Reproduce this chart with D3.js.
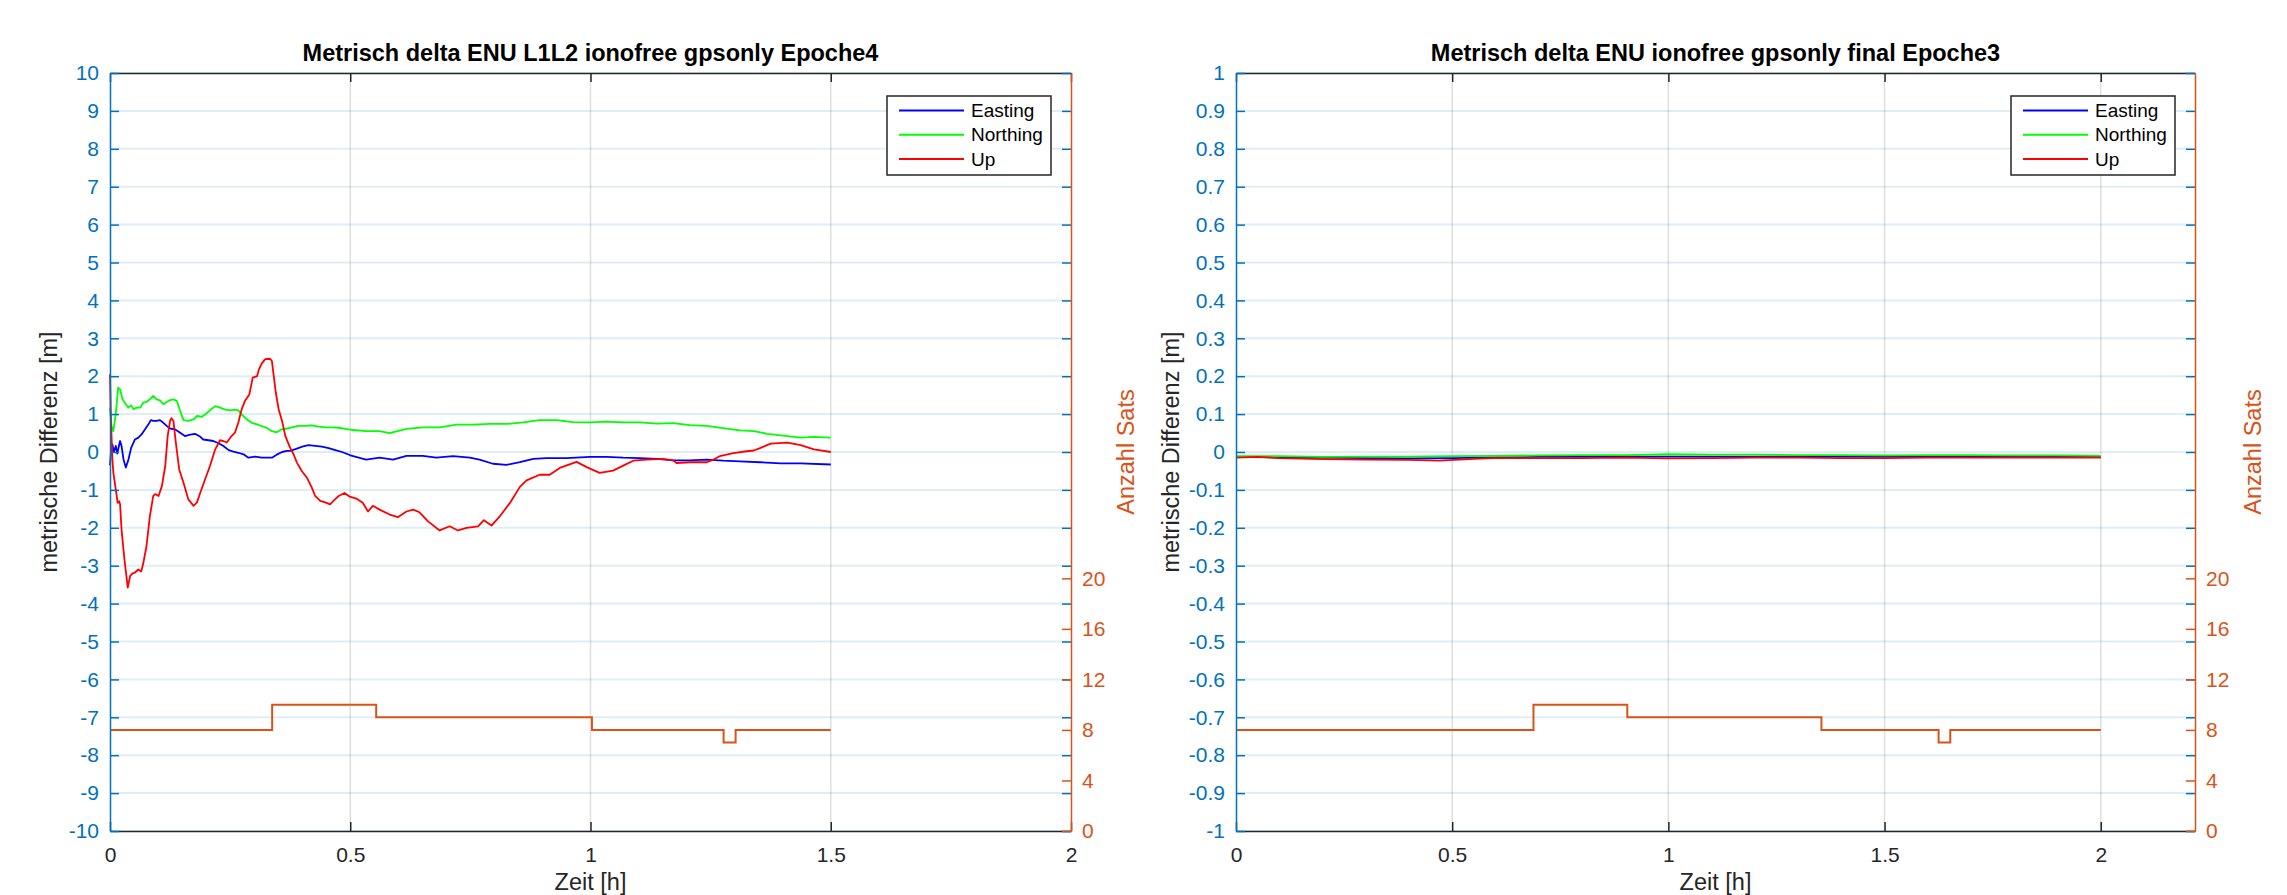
<!DOCTYPE html>
<html><head><meta charset="utf-8">
<script src="https://cdn.jsdelivr.net/npm/d3@7"></script>
<style>
body{margin:0;background:#fff}
svg{display:block}
text{font-family:"Liberation Sans",Arial,Helvetica,sans-serif}
</style>
</head><body>
<svg id="chart" width="2287" height="895"></svg>
<script>
// ---------- tick labels ----------
const xTicks = [0, 0.5, 1, 1.5, 2];
const xTickLabels = ["0", "0.5", "1", "1.5", "2"];
const satTicks = [0, 4, 8, 12, 16, 20];
const leftYTicks = [-10,-9,-8,-7,-6,-5,-4,-3,-2,-1,0,1,2,3,4,5,6,7,8,9,10];
const rightYTicks = [-1,-0.9,-0.8,-0.7,-0.6,-0.5,-0.4,-0.3,-0.2,-0.1,0,0.1,0.2,0.3,0.4,0.5,0.6,0.7,0.8,0.9,1];
const rightYTickLabels = ["-1","-0.9","-0.8","-0.7","-0.6","-0.5","-0.4","-0.3","-0.2","-0.1","0","0.1","0.2","0.3","0.4","0.5","0.6","0.7","0.8","0.9","1"];
const seriesNames = ["Easting", "Northing", "Up"];
const titles = ["Metrisch delta ENU L1L2 ionofree gpsonly Epoche4", "Metrisch delta ENU ionofree gpsonly final Epoche3"];

// ---------- left panel data: [time h, metres] ----------
const e4Easting = [[0,-0.35],[0.002,0],[0.005,0.2],[0.008,0],[0.012,0.16],[0.015,-0.04],[0.021,0.29],[0.024,0.16],[0.028,-0.19],[0.033,-0.41],[0.038,-0.22],[0.044,0.11],[0.052,0.33],[0.059,0.38],[0.066,0.47],[0.073,0.6],[0.08,0.73],[0.085,0.84],[0.09,0.82],[0.097,0.82],[0.104,0.84],[0.111,0.77],[0.118,0.69],[0.125,0.62],[0.135,0.6],[0.146,0.51],[0.156,0.42],[0.167,0.46],[0.177,0.48],[0.188,0.4],[0.194,0.33],[0.205,0.31],[0.215,0.29],[0.226,0.23],[0.236,0.16],[0.247,0.05],[0.257,0.01],[0.267,-0.02],[0.278,-0.06],[0.288,-0.15],[0.302,-0.12],[0.316,-0.15],[0.326,-0.15],[0.337,-0.15],[0.347,-0.07],[0.358,0],[0.368,0.03],[0.375,0.03],[0.389,0.09],[0.4,0.14],[0.413,0.18],[0.427,0.16],[0.441,0.14],[0.455,0.1],[0.469,0.05],[0.483,0],[0.499,-0.08],[0.506,-0.11],[0.533,-0.2],[0.561,-0.15],[0.589,-0.2],[0.617,-0.1],[0.651,-0.1],[0.679,-0.15],[0.714,-0.11],[0.749,-0.15],[0.769,-0.2],[0.797,-0.31],[0.825,-0.34],[0.853,-0.27],[0.881,-0.18],[0.908,-0.16],[0.95,-0.16],[0.999,-0.13],[1.033,-0.13],[1.068,-0.15],[1.103,-0.16],[1.138,-0.18],[1.172,-0.22],[1.207,-0.22],[1.242,-0.2],[1.276,-0.23],[1.311,-0.25],[1.353,-0.27],[1.396,-0.3],[1.4375,-0.3],[1.5,-0.33]];
const e4Northing = [[0,1.17],[0.003,0.69],[0.007,0.55],[0.012,1.0],[0.017,1.7],[0.021,1.65],[0.026,1.39],[0.031,1.3],[0.038,1.17],[0.044,1.23],[0.049,1.13],[0.056,1.17],[0.063,1.17],[0.069,1.3],[0.076,1.32],[0.083,1.39],[0.09,1.48],[0.097,1.39],[0.104,1.36],[0.111,1.26],[0.118,1.32],[0.125,1.37],[0.132,1.39],[0.139,1.35],[0.146,1.08],[0.153,0.84],[0.163,0.82],[0.174,0.86],[0.181,0.95],[0.191,0.93],[0.198,0.99],[0.208,1.1],[0.219,1.21],[0.229,1.17],[0.24,1.12],[0.25,1.1],[0.26,1.12],[0.267,1.1],[0.274,0.99],[0.285,0.86],[0.295,0.77],[0.306,0.73],[0.316,0.68],[0.326,0.64],[0.337,0.55],[0.347,0.52],[0.358,0.6],[0.368,0.62],[0.378,0.65],[0.392,0.69],[0.406,0.69],[0.42,0.7],[0.434,0.67],[0.448,0.65],[0.462,0.65],[0.476,0.64],[0.49,0.61],[0.506,0.58],[0.533,0.55],[0.561,0.55],[0.582,0.5],[0.617,0.61],[0.651,0.65],[0.686,0.65],[0.721,0.72],[0.756,0.72],[0.79,0.74],[0.825,0.74],[0.86,0.78],[0.894,0.84],[0.929,0.84],[0.964,0.79],[0.999,0.78],[1.033,0.8],[1.068,0.78],[1.103,0.78],[1.138,0.75],[1.172,0.76],[1.207,0.71],[1.242,0.69],[1.276,0.63],[1.311,0.57],[1.34,0.55],[1.368,0.48],[1.396,0.44],[1.4375,0.38],[1.465,0.4],[1.5,0.38]];
const e4Up = [[0,2.05],[0.002,0.8],[0.005,-0.2],[0.007,-0.55],[0.011,-0.9],[0.016,-1.34],[0.019,-1.3],[0.021,-1.38],[0.024,-2.04],[0.03,-2.83],[0.037,-3.58],[0.042,-3.27],[0.047,-3.2],[0.052,-3.18],[0.059,-3.1],[0.065,-3.15],[0.069,-2.95],[0.076,-2.48],[0.083,-1.69],[0.09,-1.16],[0.094,-1.11],[0.101,-1.16],[0.108,-0.9],[0.115,-0.37],[0.12,0.42],[0.125,0.82],[0.128,0.89],[0.132,0.82],[0.137,0.25],[0.144,-0.46],[0.153,-0.81],[0.163,-1.25],[0.174,-1.42],[0.181,-1.33],[0.188,-1.07],[0.198,-0.72],[0.208,-0.37],[0.219,0.07],[0.229,0.31],[0.236,0.29],[0.243,0.25],[0.253,0.42],[0.26,0.51],[0.267,0.77],[0.274,1.13],[0.281,1.35],[0.29,1.52],[0.297,1.96],[0.306,2.0],[0.31,2.18],[0.316,2.34],[0.323,2.45],[0.333,2.46],[0.337,2.4],[0.34,2.09],[0.345,1.57],[0.351,1.13],[0.358,0.82],[0.365,0.42],[0.375,0.11],[0.382,-0.06],[0.389,-0.28],[0.399,-0.5],[0.41,-0.68],[0.42,-0.94],[0.427,-1.16],[0.4375,-1.29],[0.448,-1.33],[0.458,-1.38],[0.465,-1.29],[0.476,-1.16],[0.488,-1.08],[0.499,-1.18],[0.5125,-1.23],[0.526,-1.34],[0.537,-1.57],[0.547,-1.42],[0.561,-1.52],[0.582,-1.65],[0.599,-1.72],[0.617,-1.57],[0.631,-1.52],[0.644,-1.59],[0.662,-1.83],[0.686,-2.07],[0.707,-1.96],[0.724,-2.07],[0.742,-2.0],[0.766,-1.96],[0.778,-1.8],[0.794,-1.94],[0.811,-1.7],[0.832,-1.35],[0.853,-0.92],[0.867,-0.75],[0.894,-0.6],[0.915,-0.6],[0.936,-0.42],[0.971,-0.26],[0.992,-0.4],[1.019,-0.55],[1.047,-0.49],[1.068,-0.36],[1.089,-0.23],[1.117,-0.2],[1.151,-0.18],[1.172,-0.22],[1.179,-0.29],[1.207,-0.27],[1.242,-0.27],[1.256,-0.2],[1.269,-0.11],[1.297,-0.03],[1.325,0.02],[1.34,0.04],[1.354,0.11],[1.375,0.22],[1.41,0.25],[1.4375,0.18],[1.465,0.07],[1.5,0]];
const e4SatTimes = [0, 0.3375, 0.554, 1.003, 1.277, 1.302, 1.5];
const e4SatCounts = [8, 10, 9, 8, 7, 8, 8];

// ---------- right panel data: [time h, metres] ----------
const e3Easting = [[0,-0.013],[0.1,-0.014],[0.2,-0.015],[0.3,-0.016],[0.4,-0.017],[0.5,-0.016],[0.6,-0.014],[0.7,-0.013],[0.8,-0.013],[0.9,-0.012],[1.0,-0.012],[1.1,-0.012],[1.2,-0.012],[1.3,-0.012],[1.4,-0.012],[1.5,-0.013],[1.6,-0.012],[1.7,-0.012],[1.8,-0.012],[1.9,-0.013],[2.0,-0.013]];
const e3Northing = [[0,-0.011],[0.1,-0.011],[0.2,-0.013],[0.3,-0.012],[0.4,-0.012],[0.5,-0.011],[0.6,-0.01],[0.7,-0.009],[0.8,-0.008],[0.9,-0.008],[1.0,-0.006],[1.1,-0.007],[1.2,-0.007],[1.3,-0.008],[1.4,-0.008],[1.5,-0.009],[1.6,-0.008],[1.7,-0.008],[1.8,-0.009],[1.9,-0.009],[2.0,-0.01]];
const e3Up = [[0,-0.015],[0.05,-0.013],[0.1,-0.016],[0.2,-0.019],[0.3,-0.02],[0.4,-0.021],[0.47,-0.023],[0.55,-0.018],[0.6,-0.016],[0.7,-0.016],[0.8,-0.016],[0.9,-0.015],[1.0,-0.017],[1.1,-0.016],[1.2,-0.015],[1.3,-0.015],[1.4,-0.016],[1.5,-0.016],[1.6,-0.015],[1.7,-0.015],[1.8,-0.015],[1.9,-0.015],[2.0,-0.015]];
const e3SatTimes = [0, 0.688, 0.905, 1.354, 1.625, 1.652, 2.0];
const e3SatCounts = [8, 10, 9, 8, 7, 8, 8];

// ---------- styling ----------
const BLUE_AX = "#0072BD", ORANGE = "#D95319", DARK = "#262626";
const seriesColors = ["#0000FF", "#00FF00", "#FF0000"];
const svg = d3.select("#chart");

function drawPanel(cfg) {
  const {x0, x1, y0, y1} = cfg;
  const x = d3.scaleLinear().domain(cfg.xDomain).range([x0, x1]);
  const y = d3.scaleLinear().domain(cfg.yDomain).range([y1, y0]);
  const ys = d3.scaleLinear().domain([0, 60]).range([y1, y0]);
  const g = svg.append("g");

  // grid
  g.append("g").selectAll("line").data(cfg.yTicks).join("line")
    .attr("x1", x0).attr("x2", x1).attr("y1", d => y(d)).attr("y2", d => y(d))
    .attr("stroke", BLUE_AX).attr("stroke-opacity", 0.13).attr("stroke-width", 2);
  g.append("g").selectAll("line").data(xTicks.filter(d => d > 0 && d < cfg.xDomain[1])).join("line")
    .attr("x1", d => x(d)).attr("x2", d => x(d)).attr("y1", y0).attr("y2", y1)
    .attr("stroke", DARK).attr("stroke-opacity", 0.15).attr("stroke-width", 1.5);

  // satellites (right axis)
  const satData = cfg.satTimes.map((t, i) => [t, cfg.satCounts[i]]);
  g.append("path").datum(satData)
    .attr("d", d3.line().x(d => x(d[0])).y(d => ys(d[1])).curve(d3.curveStepAfter))
    .attr("fill", "none").attr("stroke", ORANGE).attr("stroke-width", 2);

  // ENU lines
  const line = d3.line().x(d => x(d[0])).y(d => y(d[1]));
  cfg.series.forEach((s, i) => {
    g.append("path").datum(s).attr("d", line)
      .attr("fill", "none").attr("stroke", seriesColors[i]).attr("stroke-width", 1.8)
      .attr("stroke-linejoin", "round");
  });

  const fs = 21;
  // top axis
  const top = g.append("g").attr("transform", `translate(0,${y0})`)
    .call(d3.axisTop(x).tickValues(xTicks.filter(d => d <= cfg.xDomain[1])).tickSize(-9).tickSizeOuter(0).tickFormat(""));
  top.selectAll("line,path").attr("stroke", DARK).attr("stroke-width", 1.5);
  // bottom axis
  const bot = g.append("g").attr("transform", `translate(0,${y1})`)
    .call(d3.axisBottom(x).tickValues(xTicks.filter(d => d <= cfg.xDomain[1])).tickSize(-9).tickSizeOuter(0).tickPadding(16)
      .tickFormat((d) => xTickLabels[xTicks.indexOf(d)]));
  bot.selectAll("line,path").attr("stroke", DARK).attr("stroke-width", 1.5);
  bot.selectAll("text").attr("fill", DARK).attr("font-size", fs).attr("font-family", null);
  // left axis
  const left = g.append("g").attr("transform", `translate(${x0},0)`)
    .call(d3.axisLeft(y).tickValues(cfg.yTicks).tickSize(-9).tickSizeOuter(0).tickPadding(11)
      .tickFormat(d => cfg.yTickLabels[cfg.yTicks.indexOf(d)]));
  left.selectAll("line,path").attr("stroke", BLUE_AX).attr("stroke-width", 1.5);
  left.selectAll("text").attr("fill", BLUE_AX).attr("font-size", fs).attr("font-family", null);
  // mirrored blue ticks at right edge
  const rb = g.append("g").attr("transform", `translate(${x1},0)`)
    .call(d3.axisRight(y).tickValues(cfg.yTicks).tickSize(-9).tickSizeOuter(0).tickFormat(""));
  rb.selectAll("line").attr("stroke", BLUE_AX).attr("stroke-width", 1.5);
  rb.select("path").remove();
  // right sats axis
  const right = g.append("g").attr("transform", `translate(${x1},0)`)
    .call(d3.axisRight(ys).tickValues(satTicks).tickSize(-9).tickSizeOuter(0).tickPadding(11));
  right.selectAll("line,path").attr("stroke", ORANGE).attr("stroke-width", 1.5);
  right.selectAll("text").attr("fill", ORANGE).attr("font-size", fs).attr("font-family", null);

  // title and labels
  const cx = (x0 + x1) / 2;
  g.append("text").attr("x", cx).attr("y", 61).attr("text-anchor", "middle")
    .attr("font-size", 23.5).attr("font-weight", "bold").attr("fill", "#000").text(cfg.title);
  g.append("text").attr("x", cx).attr("y", 890).attr("text-anchor", "middle")
    .attr("font-size", 23.5).attr("fill", DARK).text("Zeit [h]");
  g.append("text").attr("transform", `translate(${cfg.yLabelX},${(y0 + y1) / 2}) rotate(-90)`)
    .attr("text-anchor", "middle").attr("font-size", 23.5).attr("fill", DARK).text("metrische Differenz [m]");
  g.append("text").attr("transform", `translate(${cfg.satLabelX},${(y0 + y1) / 2}) rotate(-90)`)
    .attr("text-anchor", "middle").attr("font-size", 23.5).attr("fill", ORANGE).text("Anzahl Sats");

  // legend
  const lw = 164, lh = 79, lx = x1 - 20 - lw, ly = 96;
  const lg = g.append("g");
  lg.append("rect").attr("x", lx).attr("y", ly).attr("width", lw).attr("height", lh)
    .attr("fill", "#fff").attr("stroke", DARK).attr("stroke-width", 1.5);
  seriesNames.forEach((n, i) => {
    const yy = ly + 14.5 + i * 24.3;
    lg.append("line").attr("x1", lx + 12).attr("x2", lx + 77).attr("y1", yy).attr("y2", yy)
      .attr("stroke", seriesColors[i]).attr("stroke-width", 2);
    lg.append("text").attr("x", lx + 84).attr("y", yy).attr("dy", "0.35em")
      .attr("font-size", 19).attr("fill", "#000").text(n);
  });
}

drawPanel({
  x0: 110, x1: 1071, y0: 73, y1: 831, xDomain: [0, 2], yDomain: [-10, 10],
  yTicks: leftYTicks, yTickLabels: leftYTicks.map(String),
  series: [e4Easting, e4Northing, e4Up], satTimes: e4SatTimes, satCounts: e4SatCounts,
  title: titles[0], yLabelX: 57, satLabelX: 1134
});
drawPanel({
  x0: 1236, x1: 2195, xDomain: [0, 2.218], y0: 73, y1: 831, yDomain: [-1, 1],
  yTicks: rightYTicks, yTickLabels: rightYTickLabels,
  series: [e3Easting, e3Northing, e3Up], satTimes: e3SatTimes, satCounts: e3SatCounts,
  title: titles[1], yLabelX: 1179, satLabelX: 2261
});
</script>
</body></html>
